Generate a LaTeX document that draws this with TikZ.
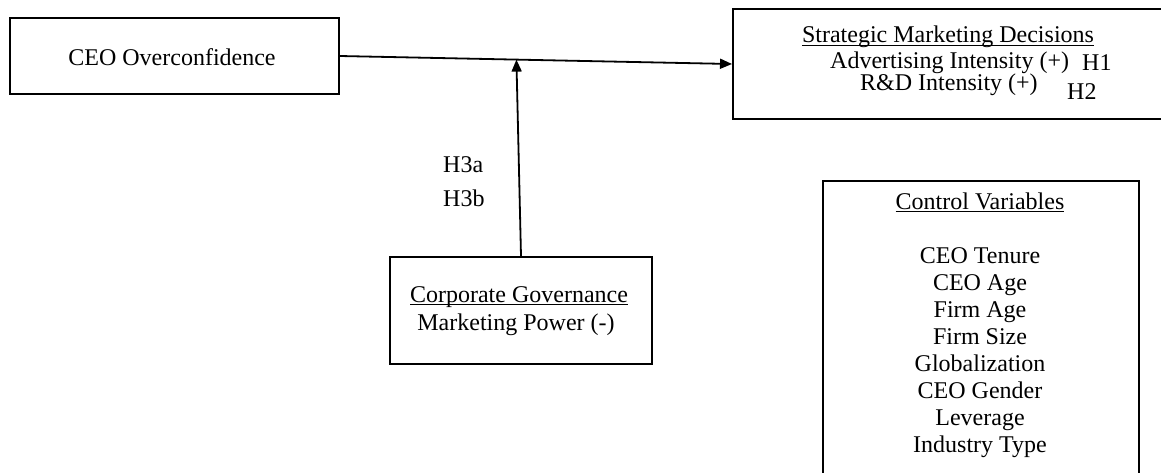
\documentclass[tikz,border=0pt]{standalone}
\usepackage{fontspec}
\setmainfont{Liberation Serif}
\usetikzlibrary{arrows.meta,calc}
\newcommand\myul[1]{\setbox0\hbox{#1}\rlap{\rule[-3pt]{\wd0}{1pt}}\box0}
\begin{document}
\begin{tikzpicture}[x=1pt,y=-1pt,
  box/.style={draw,line width=2pt,inner sep=0pt,anchor=north west},
  txt/.style={font=\fontsize{24}{27}\selectfont,inner sep=0pt},
  conn/.style={line width=1.8pt,-{Triangle[length=12pt,width=10pt]}}]
\useasboundingbox (0,0) rectangle (1161,472);
\clip (0,0) rectangle (1161,472);
% boxes
\node[box,minimum width=329pt,minimum height=76pt] (ceo) at (9,17) {};
\node[box,minimum width=440pt,minimum height=110pt] (strat) at (732,8) {};
\node[box,minimum width=262pt,minimum height=107pt] (cg) at (389,256) {};
\node[box,minimum width=316pt,minimum height=320pt] (ctrl) at (822,180) {};
% texts
\node[txt] (ceot) at (172,57) {CEO Overconfidence};
\node[txt] (stt) at (948,37) {\myul{Strategic Marketing Decisions}};
\node[txt,anchor=west] (adv) at (830,63) {Advertising Intensity (+)};
\node[txt,anchor=west] (h1) at (1082,63) {H1};
\node[txt,anchor=west] (rd) at (860,85) {R\&D Intensity (+)};
\node[txt,anchor=west] (h2) at (1067,92) {H2};
\node[txt,anchor=west] (h3a) at (443,165) {H3a};
\node[txt,anchor=west] (h3b) at (443,198) {H3b};
\node[txt] (cgt) at (519,297) {\myul{Corporate Governance}};
\node[txt] (mp) at (516,325) {Marketing Power (-)};
\node[txt,align=center] (ctrlt) at (980,325) {\myul{Control Variables}\\[27pt]
  CEO Tenure\\CEO Age\\Firm Age\\Firm Size\\Globalization\\CEO Gender\\Leverage\\Industry Type};
% connectors
\draw[conn] (ceo.east) -- (strat.west);
\coordinate (junc) at ($(ceo.east)!0.45!(strat.west)$);
\draw[conn] (cg.north) -- (junc);
\end{tikzpicture}
\end{document}
